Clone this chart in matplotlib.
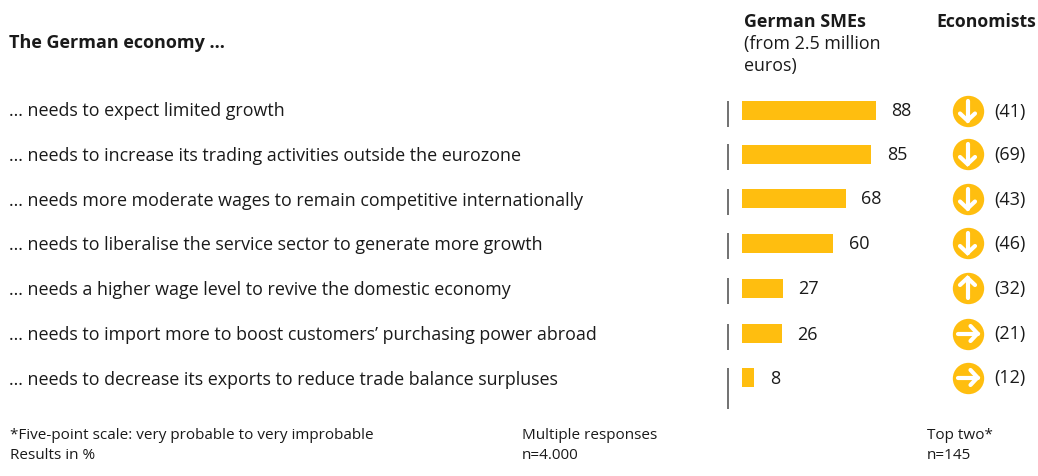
import matplotlib
matplotlib.use('Agg')
import matplotlib.pyplot as plt

plt.rcParams['font.family'] = ['Open Sans', 'DejaVu Sans']

labels = ['... needs to expect limited growth',
          '... needs to increase its trading activities outside the eurozone',
          '... needs more moderate wages to remain competitive internationally',
          '... needs to liberalise the service sector to generate more growth',
          '... needs a higher wage level to revive the domestic economy',
          '... needs to import more to boost customers\u2019 purchasing power abroad',
          '... needs to decrease its exports to reduce trade balance surpluses']
smes = [88, 85, 68, 60, 27, 26, 8]
economists = [41, 69, 43, 46, 32, 21, 12]
trend = ['down', 'down', 'down', 'down', 'up', 'right', 'right']

W, H = 1038, 476
yellow = '#FFBE0F'
dark = '#1a1a1a'
px_per_unit = 1.523
rows = [110.5, 154, 198.5, 243, 288, 333.5, 377.5]
fs = 12.87
fs_small = 10.98

fig = plt.figure(figsize=(W / 100, H / 100), dpi=100)

# everything is laid out in pixels on one full figure axes
ax = fig.add_axes([0, 0, 1, 1])
ax.set_xlim(0, W)
ax.set_ylim(H, 0)
ax.axis('off')

ax.text(9, 43, 'The German economy ...', fontsize=13, fontweight='bold', color=dark, va='center')
ax.text(744, 22, 'German SMEs', fontsize=12.9, fontweight='bold', color=dark, va='center')
ax.text(744, 44, '(from 2.5 million', fontsize=fs, color=dark, va='center')
ax.text(744, 66, 'euros)', fontsize=fs, color=dark, va='center')
ax.text(936, 22, 'Economists', fontsize=12.7, fontweight='bold', color=dark, va='center')

arrow_dirs = {'down': (0, 1), 'up': (0, -1), 'right': (1, 0)}

for i, lab in enumerate(labels):
    y = rows[i]
    ax.text(9, 111 + i * 44.8, lab, fontsize=fs, color=dark, va='center')

    # bar and value
    ax.barh(y, smes[i] * px_per_unit, height=19, left=742, color=yellow, linewidth=0)
    ax.text(742 + smes[i] * px_per_unit + 15.5, y + 1, str(smes[i]), fontsize=13, color=dark, va='center')

    # separator, the last one runs on below the row
    bottom = y + 31 if i == 6 else y + 16
    ax.plot([727.5, 727.5], [y - 10, bottom], color='#666666', lw=1.3, solid_capstyle='butt')

    # trend icon
    cx, cy = 967.5, y
    ax.scatter([cx], [cy], s=510, color=yellow, linewidths=0, zorder=3)
    dx, dy = arrow_dirs[trend[i]]
    ax.plot([cx - dx * 10, cx + dx * 10], [cy - dy * 10, cy + dy * 10], color='white', lw=3,
            solid_capstyle='round', zorder=4)
    # arrow head
    tipx, tipy = cx + dx * 10, cy + dy * 10
    px, py = -dy, dx
    ax.plot([tipx - dx * 7 + px * 7.5, tipx, tipx - dx * 7 - px * 7.5],
            [tipy - dy * 7 + py * 7.5, tipy, tipy - dy * 7 - py * 7.5],
            color='white', lw=3, solid_capstyle='round', solid_joinstyle='miter', zorder=4)

    ax.text(1009.5, y + 1, '(%d)' % economists[i], fontsize=13, color=dark, va='center', ha='center')

ax.text(10, 435.5, '*Five-point scale: very probable to very improbable', fontsize=fs_small, color=dark, va='center')
ax.text(10, 455.5, 'Results in %', fontsize=fs_small, color=dark, va='center')
ax.text(522, 435.5, 'Multiple responses', fontsize=fs_small, color=dark, va='center')
ax.text(522, 455.5, 'n=4.000', fontsize=fs_small, color=dark, va='center')
ax.text(927, 435.5, 'Top two*', fontsize=fs_small, color=dark, va='center')
ax.text(927, 455.5, 'n=145', fontsize=fs_small, color=dark, va='center')

fig.savefig('out.png', dpi=100)
